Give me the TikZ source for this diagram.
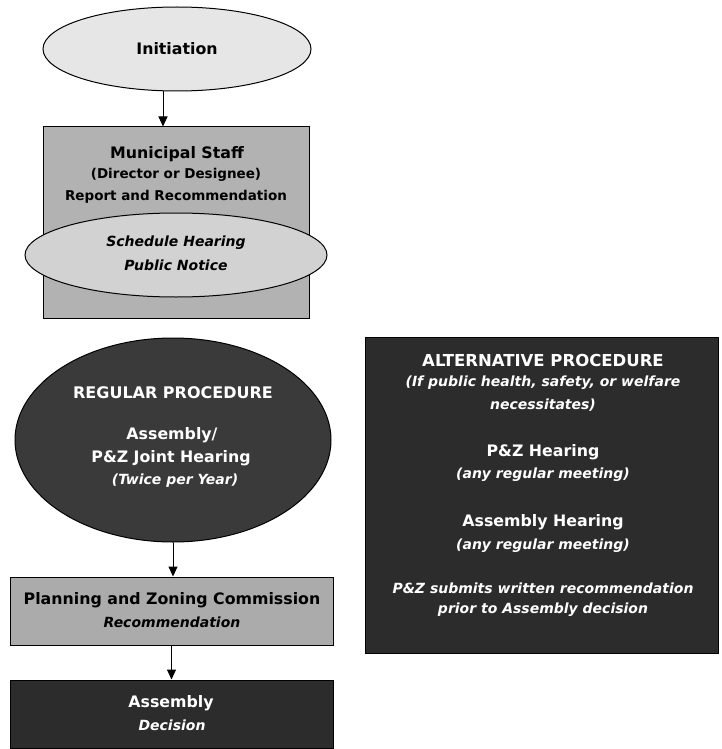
\documentclass[tikz,border=0pt]{standalone}
\usepackage{fontspec}
\setmainfont{DejaVu Sans}
\usetikzlibrary{shapes.geometric,arrows.meta}
\definecolor{vlight}{HTML}{E6E6E6}
\definecolor{lightg}{HTML}{D2D2D2}
\definecolor{midg}{HTML}{B2B2B2}
\definecolor{pzg}{HTML}{ABABAB}
\definecolor{darkg}{HTML}{3A3A3A}
\definecolor{darker}{HTML}{2C2C2C}
\begin{document}
\begin{tikzpicture}[x=1pt,y=-1pt,
  txt/.style={font=\bfseries\fontsize{13.5}{22}\selectfont, align=center, inner sep=0pt},
  head/.style={txt, font=\bfseries\fontsize{15.8}{22}\selectfont},
  caps/.style={txt, font=\bfseries\fontsize{16}{22}\selectfont},
  sub/.style={txt, font=\bfseries\itshape\fontsize{14}{22}\selectfont},
  shp/.style={draw=black, line width=1pt, inner sep=0pt},
  ell/.style={shp, ellipse},
  box/.style={shp, rectangle},
  arr/.style={line width=1pt, -{Triangle[length=10pt,width=9pt]}}]
\useasboundingbox (0,0) rectangle (722,749);

% Initiation
\node[ell, fill=vlight, minimum width=268pt, minimum height=84pt] (init) at (177,49) {};
\node[head] (initt) at (177,49) {Initiation};

% Municipal staff box
\node[box, fill=midg, minimum width=266pt, minimum height=191pt] (staff) at (176,222.5) {};
\node[head] (staff1) at (177,154) {Municipal Staff};
\node[txt] (staff2) at (176,175) {(Director or Designee)};
\node[txt] (staff3) at (176,197) {Report and Recommendation};

% Schedule ellipse
\node[ell, fill=lightg, minimum width=302pt, minimum height=84pt] (sched) at (176,255) {};
\node[sub] (sched1) at (176,243) {Schedule Hearing};
\node[sub] (sched2) at (176,265) {Public Notice};

% Regular procedure
\node[ell, fill=darkg, minimum width=316pt, minimum height=204pt] (reg) at (173,440) {};
\node[caps, text=white] (reg1) at (173,393) {REGULAR PROCEDURE};
\node[head, text=white] (reg2) at (172,435) {Assembly/};
\node[head, text=white] (reg3) at (171,458) {P\&Z Joint Hearing};
\node[sub, text=white] (reg4) at (175,481) {(Twice per Year)};

% Planning and Zoning
\node[box, fill=pzg, minimum width=323pt, minimum height=68pt] (pz) at (171.5,611) {};
\node[head] (pz1) at (172,600) {Planning and Zoning Commission};
\node[sub] (pz2) at (172,622) {Recommendation};

% Assembly decision
\node[box, fill=darker, minimum width=323pt, minimum height=68pt] (asm) at (171.5,714) {};
\node[head, text=white] (asm1) at (171,703) {Assembly};
\node[sub, text=white] (asm2) at (172,725) {Decision};

% Alternative procedure
\node[box, fill=darker, minimum width=353pt, minimum height=316pt] (alt) at (541.5,495) {};
\node[caps, text=white, font=\bfseries\fontsize{16.5}{22}\selectfont] (alt1) at (543,360) {ALTERNATIVE PROCEDURE};
\node[sub, text=white] (alt2) at (543,383) {(If public health, safety, or welfare};
\node[sub, text=white] (alt3) at (543,405) {necessitates)};
\node[head, text=white] (alt4) at (543,452) {P\&Z Hearing};
\node[sub, text=white] (alt5) at (543,475) {(any regular meeting)};
\node[head, text=white] (alt6) at (543,522) {Assembly Hearing};
\node[sub, text=white] (alt7) at (543,546) {(any regular meeting)};
\node[sub, text=white] (alt8) at (543,588) {P\&Z submits written recommendation};
\node[sub, text=white] (alt9) at (543,610) {prior to Assembly decision};

% Connectors
\draw[arr] ([xshift=-14pt]init.south) -- ([xshift=-13pt]staff.north);
\draw[arr] (reg.south) -- (reg.south |- pz.north);
\draw[arr] (pz.south) -- (asm.north);
\end{tikzpicture}
\end{document}
